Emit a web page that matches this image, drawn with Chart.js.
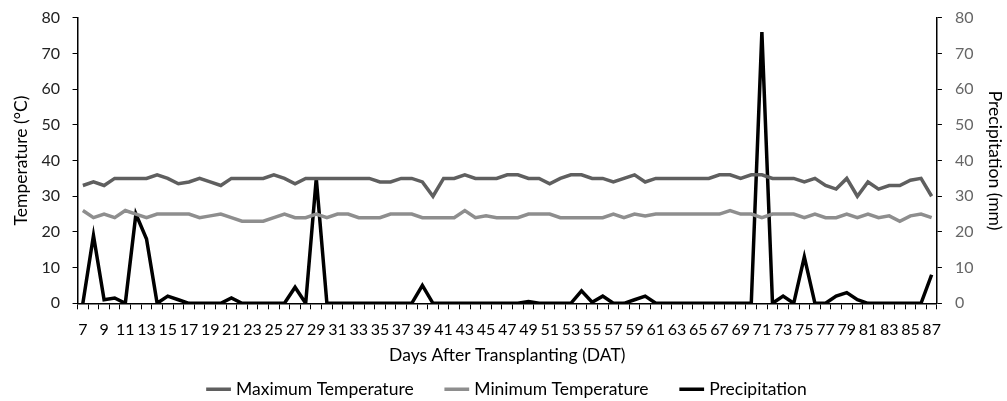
<!DOCTYPE html>
<html>
<head>
<meta charset="utf-8">
<script src="https://cdn.jsdelivr.net/npm/chart.js@4.4.1/dist/chart.umd.min.js"></script>
<style>
  html, body { margin: 0; padding: 0; background: #fff; }
  #wrap { width: 1007px; height: 401px; }
</style>
</head>
<body>
<div id="wrap"><canvas id="weatherChart"></canvas></div>
<script>
// Days after transplanting, 7 .. 87
var days = [];
for (var d = 7; d <= 87; d++) { days.push(d); }

// Maximum temperature (°C)
var maxTemp = [
    33, 34, 33, 35, 35, 35, 35, 36, 35, 33.5,
    34, 35, 34, 33, 35, 35, 35, 35, 36, 35,
    33.5, 35, 35, 35, 35, 35, 35, 35, 34, 34,
    35, 35, 34, 30, 35, 35, 36, 35, 35, 35,
    36, 36, 35, 35, 33.5, 35, 36, 36, 35, 35,
    34, 35, 36, 34, 35, 35, 35, 35, 35, 35,
    36, 36, 35, 36, 36, 35, 35, 35, 34, 35,
    33, 32, 35, 30, 34, 32, 33, 33, 34.5, 35,
    30
];

// Minimum temperature (°C)
var minTemp = [
    26, 24, 25, 24, 26, 25, 24, 25, 25, 25,
    25, 24, 24.5, 25, 24, 23, 23, 23, 24, 25,
    24, 24, 25, 24, 25, 25, 24, 24, 24, 25,
    25, 25, 24, 24, 24, 24, 26, 24, 24.5, 24,
    24, 24, 25, 25, 25, 24, 24, 24, 24, 24,
    25, 24, 25, 24.5, 25, 25, 25, 25, 25, 25,
    25, 26, 25, 25, 24, 25, 25, 25, 24, 25,
    24, 24, 25, 24, 25, 24, 24.5, 23, 24.5, 25,
    24
];

// Precipitation (mm)
var precip = [
    0, 19, 1, 1.5, 0, 25, 18, 0, 2, 1,
    0, 0, 0, 0, 1.5, 0, 0, 0, 0, 0,
    4.5, 0, 35, 0, 0, 0, 0, 0, 0, 0,
    0, 0, 5, 0, 0, 0, 0, 0, 0, 0,
    0, 0, 0.5, 0, 0, 0, 0, 3.5, 0.3, 2,
    0, 0, 1, 2, 0, 0, 0, 0, 0, 0,
    0, 0, 0, 0, 76, 0, 2, 0, 13, 0,
    0, 2, 3, 1, 0, 0, 0, 0, 0, 0,
    8
];

var fontFamily = 'Lato, "Open Sans", sans-serif';

var ctx = document.getElementById('weatherChart').getContext('2d');
new Chart(ctx, {
    type: 'line',
    data: {
        labels: days,
        datasets: [
            {
                label: 'Maximum Temperature',
                data: maxTemp,
                borderColor: '#5f5f5f',
                backgroundColor: '#5f5f5f',
                borderWidth: 3.5,
                pointRadius: 0,
                tension: 0,
                yAxisID: 'y'
            },
            {
                label: 'Minimum Temperature',
                data: minTemp,
                borderColor: '#8e8e8e',
                backgroundColor: '#8e8e8e',
                borderWidth: 3.5,
                pointRadius: 0,
                tension: 0,
                yAxisID: 'y'
            },
            {
                label: 'Precipitation',
                data: precip,
                borderColor: '#000',
                backgroundColor: '#000',
                borderWidth: 3.5,
                pointRadius: 0,
                tension: 0,
                yAxisID: 'y1'
            }
        ]
    },
    options: {
        responsive: true,
        maintainAspectRatio: false,
        animation: false,
        layout: { padding: { left: 11, right: 1.5, top: 6, bottom: -7 } },
        plugins: {
            tooltip: { enabled: false },
            legend: {
                position: 'bottom',
                labels: {
                    usePointStyle: true,
                    pointStyle: 'line',
                    boxWidth: 34,
                    padding: 12,
                    color: '#000',
                    font: { family: fontFamily, size: 17.5 },
                    generateLabels: function (chart) {
                        var items = Chart.defaults.plugins.legend.labels.generateLabels(chart);
                        // extra gap between legend entries
                        items.forEach(function (item, i) {
                            if (i < items.length - 1) { item.text = item.text + '\u00a0\u00a0\u00a0\u00a0\u00a0'; }
                        });
                        return items;
                    }
                }
            }
        },
        scales: {
            x: {
                offset: true,
                grid: {
                    offset: true,
                    drawOnChartArea: false,
                    drawTicks: true,
                    tickLength: 6,
                    color: '#000'
                },
                border: { display: true, color: '#000', width: 1.5 },
                ticks: {
                    autoSkip: false,
                    maxRotation: 0,
                    padding: 11,
                    color: '#000',
                    font: { family: fontFamily, size: 16 },
                    callback: function (value, index) {
                        return index % 2 === 0 ? this.getLabelForValue(value) : '';
                    }
                },
                title: {
                    display: true,
                    text: 'Days After Transplanting (DAT)',
                    color: '#000',
                    font: { family: fontFamily, size: 17.5 },
                    padding: { top: -6, bottom: 3 }
                }
            },
            y: {
                position: 'left',
                min: 0,
                max: 80,
                ticks: {
                    stepSize: 10,
                    padding: 12.5,
                    color: '#222',
                    font: { family: fontFamily, size: 16, lineHeight: 0.6 }
                },
                grid: {
                    drawOnChartArea: false,
                    drawTicks: true,
                    tickLength: 5,
                    color: '#000'
                },
                border: { display: true, color: '#000', width: 1.5 },
                title: {
                    display: true,
                    text: 'Temperature (°C)',
                    color: '#000',
                    font: { family: fontFamily, size: 17.5 },
                    padding: { top: 0, bottom: -3 }
                }
            },
            y1: {
                position: 'right',
                min: 0,
                max: 80,
                ticks: {
                    stepSize: 10,
                    padding: 13,
                    color: '#666',
                    font: { family: fontFamily, size: 16, lineHeight: 0.6 }
                },
                grid: {
                    drawOnChartArea: false,
                    drawTicks: true,
                    tickLength: 5,
                    color: '#000'
                },
                border: { display: true, color: '#000', width: 1.5 },
                title: {
                    display: true,
                    text: 'Precipitation (mm)',
                    color: '#000',
                    font: { family: fontFamily, size: 17.5 },
                    padding: { top: 0, bottom: -2 }
                }
            }
        }
    }
});
</script>
</body>
</html>
